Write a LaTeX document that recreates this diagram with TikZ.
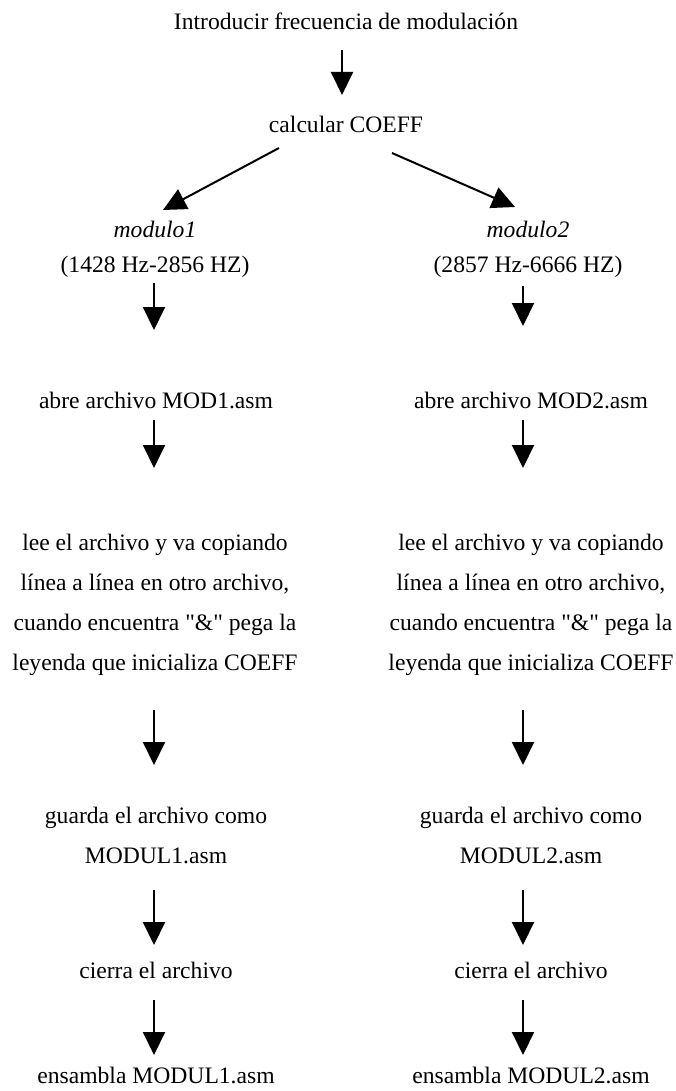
\documentclass[tikz,border=0pt]{standalone}
\usepackage{fontspec}
\defaultfontfeatures{}
\setmainfont{Liberation Serif}[Ligatures=TeXOff]
\usetikzlibrary{arrows.meta}
\begin{document}
\begin{tikzpicture}[x=1pt,y=-1pt,
  lbl/.style={anchor=base,inner sep=0pt,align=center,font=\fontsize{23.6}{40}\selectfont},
  arr/.style={line width=2pt,-{Triangle[length=23pt,width=22pt]}}]
\useasboundingbox (0,0) rectangle (675,1091);
% text nodes (base anchor = baseline of last line)
\node[lbl] (t1) at (346,30) {Introducir frecuencia de modulación};
\node[lbl] (t2) at (346,133) {calcular COEFF};
\node[lbl,font=\fontsize{23.6}{35}\selectfont] (m1) at (155,272) {\textit{modulo1}\\(1428 Hz-2856 HZ)};
\node[lbl,font=\fontsize{23.6}{35}\selectfont] (m2) at (528,272) {\textit{modulo2}\\(2857 Hz-6666 HZ)};
\node[lbl] (a1) at (156,408) {abre archivo MOD1.asm};
\node[lbl] (a2) at (531,408) {abre archivo MOD2.asm};
\node[lbl] (l1) at (155,670) {lee el archivo y va copiando\\línea a línea en otro archivo,\\cuando encuentra \char"0022\&\char"0022{} pega la\\leyenda que inicializa COEFF};
\node[lbl] (l2) at (531,670) {lee el archivo y va copiando\\línea a línea en otro archivo,\\cuando encuentra \char"0022\&\char"0022{} pega la\\leyenda que inicializa COEFF};
\node[lbl] (g1) at (156,863) {guarda el archivo como\\MODUL1.asm};
\node[lbl] (g2) at (531,863) {guarda el archivo como\\MODUL2.asm};
\node[lbl] (c1) at (156,978) {cierra el archivo};
\node[lbl] (c2) at (531,978) {cierra el archivo};
\node[lbl] (e1) at (156,1083) {ensambla MODUL1.asm};
\node[lbl] (e2) at (531,1083) {ensambla MODUL2.asm};
% connector end points
\coordinate (s0) at (342,50);   \coordinate (e0) at (342,95);
\coordinate (sL) at (279,148);  \coordinate (eL) at (163,210);
\coordinate (sR) at (392,153);  \coordinate (eR) at (515,207);
\coordinate (s1a) at (154,283); \coordinate (e1a) at (154,330);
\coordinate (s2a) at (523,286); \coordinate (e2a) at (523,326);
\coordinate (s1b) at (154,420); \coordinate (e1b) at (154,468);
\coordinate (s2b) at (523,420); \coordinate (e2b) at (523,468);
\coordinate (s1c) at (154,710); \coordinate (e1c) at (154,765);
\coordinate (s2c) at (523,710); \coordinate (e2c) at (523,765);
\coordinate (s1d) at (154,890); \coordinate (e1d) at (154,945);
\coordinate (s2d) at (523,890); \coordinate (e2d) at (523,945);
\coordinate (s1e) at (154,1000); \coordinate (e1e) at (154,1055);
\coordinate (s2e) at (523,1000); \coordinate (e2e) at (523,1055);
\foreach \s/\e in {s0/e0,sL/eL,sR/eR,s1a/e1a,s2a/e2a,s1b/e1b,s2b/e2b,s1c/e1c,s2c/e2c,s1d/e1d,s2d/e2d,s1e/e1e,s2e/e2e}
  \draw[arr] (\s) -- (\e);
\end{tikzpicture}
\end{document}
